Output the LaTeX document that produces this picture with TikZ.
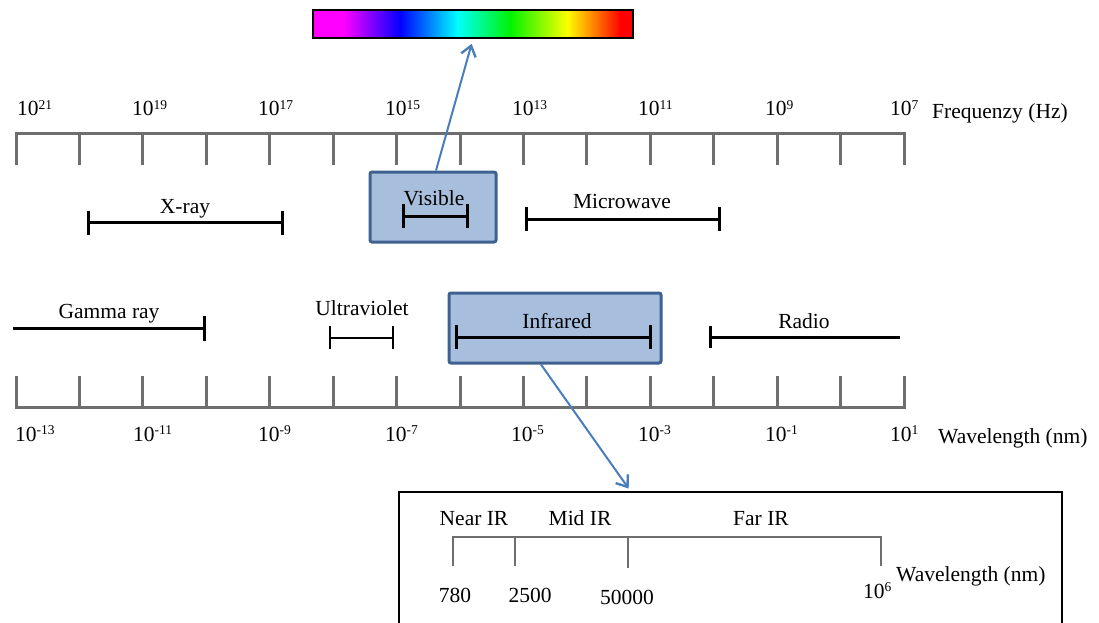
\documentclass[tikz,border=0pt]{standalone}
\usepackage{fontspec}
\setmainfont{Liberation Serif}
\usetikzlibrary{arrows.meta}
\definecolor{axisgray}{HTML}{6E6E6E}
\definecolor{boxfill}{HTML}{A7BEDD}
\definecolor{boxedge}{HTML}{3F6190}
\definecolor{arrowblue}{HTML}{4A7EBB}
\definecolor{specmag}{rgb}{1,0,1}
\definecolor{specblue}{rgb}{0,0,1}
\definecolor{speccyan}{rgb}{0,1,1}
\definecolor{specgreen}{rgb}{0,0.95,0}
\definecolor{specyellow}{rgb}{1,1,0}
\definecolor{specred}{rgb}{1,0,0}
\newcommand\pw[1]{\raisebox{6.5pt}{\fontsize{13.5}{14}\selectfont #1}}
\begin{document}
\begin{tikzpicture}[x=1pt,y=-1pt,
  lbl/.style={font=\fontsize{21.5}{25}\selectfont, inner sep=0pt},
  axisline/.style={draw=axisgray, line width=3pt},
  bar/.style={draw=black, line width=3pt},
  thinbar/.style={draw=black, line width=2.4pt},
  bandbox/.style={draw=boxedge, line width=3pt, fill=boxfill, rounded corners=2pt, inner sep=0pt},
  conn/.style={draw=arrowblue, line width=2pt, -{Straight Barb[length=10pt,width=15pt,line width=2.4pt]}},
]
\useasboundingbox (0,0) rectangle (1099,623);
\clip (0,0) rectangle (1099,623);

% spectrum bar
\fill[specmag] (313,10) rectangle (344,38);
\shade[left color=specmag, right color=specblue] (343,10) rectangle (401,38);
\shade[left color=specblue, right color=speccyan] (400,10) rectangle (458,38);
\shade[left color=speccyan, right color=specgreen] (457,10) rectangle (511,38);
\shade[left color=specgreen, right color=specyellow] (510,10) rectangle (568,38);
\shade[left color=specyellow, right color=specred] (567,10) rectangle (621,38);
\fill[specred] (620,10) rectangle (633,38);
\node[draw=black, line width=2pt, minimum width=320, minimum height=28, inner sep=0pt] (spec) at (473,24) {};

% frequency axis
\draw[axisline] (16,133) -- (904,133);
\foreach \i in {0,...,14} { \draw[axisline] ({16+\i*63.43},131.5) -- ({16+\i*63.43},165); }
\foreach \x/\e [count=\k] in {17/21,132/19,258/17,385/15,512/13,638/11,765/9,890/7}
  { \node[lbl, anchor=base west] (f\k) at (\x,116) {10\pw{\e}}; }
\node[lbl, anchor=base west] (freq) at (932,118) {Frequenzy (Hz)};

% upper bands
\node[bandbox, minimum width=126, minimum height=70] (vis) at (433,207) {};
\node[lbl, anchor=base] (vist) at (434,205) {Visible};
\draw[bar] (403,204) -- (403,228);
\draw[bar] (403,216) -- (467,216);
\draw[bar] (467,204) -- (467,228);

\node[lbl, anchor=base] (xrayt) at (185,213) {X-ray};
\draw[bar] (88,211) -- (88,235);
\draw[bar] (88,222) -- (282,222);
\draw[bar] (282,211) -- (282,235);

\node[lbl, anchor=base] (mwt) at (622,208) {Microwave};
\draw[bar] (526,207) -- (526,231);
\draw[bar] (526,219) -- (719,219);
\draw[bar] (719,207) -- (719,231);

% lower bands
\node[lbl, anchor=base] (gamt) at (109,318) {Gamma ray};
\draw[bar] (13,328) -- (204,328);
\draw[bar] (204,316) -- (204,341);

\node[lbl, anchor=base] (uvt) at (362,315) {Ultraviolet};
\draw[thinbar] (330,326) -- (330,349);
\draw[thinbar] (330,338) -- (393,338);
\draw[thinbar] (393,326) -- (393,349);

\node[bandbox, minimum width=212, minimum height=70] (ir) at (555,328) {};
\node[lbl, anchor=base] (irt) at (557,328) {Infrared};
\draw[bar] (456,325) -- (456,349);
\draw[bar] (456,337) -- (650,337);
\draw[bar] (650,325) -- (650,349);

\node[lbl, anchor=base] (radt) at (804,328) {Radio};
\draw[bar] (710,326) -- (710,348);
\draw[bar] (710,337) -- (900,337);

% wavelength axis
\draw[axisline] (16,407) -- (904,407);
\foreach \i in {0,...,14} { \draw[axisline] ({16+\i*63.43},376) -- ({16+\i*63.43},408.5); }
\foreach \x/\e [count=\k] in {15/-13,133/-11,258/-9,385/-7,511/-5,638/-3,765/-1,890/1}
  { \node[lbl, anchor=base west] (w\k) at (\x,441) {10\pw{\e}}; }
\node[lbl, anchor=base west] (wavel) at (938,443) {Wavelength (nm)};

% infrared detail box
\node[draw=black, line width=1.8pt, minimum width=663, minimum height=200, inner sep=0pt, anchor=north west] (irbox) at (398,491) {};
\draw[axisline, line width=2.6pt] (453,566) -- (453,537) -- (881,537) -- (881,566);
\draw[axisline, line width=2.6pt] (515,537) -- (515,566);
\draw[axisline, line width=2.6pt] (628,537) -- (628,568);
\node[lbl, anchor=base] (nir) at (474,525) {Near IR};
\node[lbl, anchor=base] (mir) at (580,525) {Mid IR};
\node[lbl, anchor=base] (fir) at (761,525) {Far IR};
\node[lbl, anchor=base] (n780) at (455,602) {780};
\node[lbl, anchor=base] (n2500) at (530,602) {2500};
\node[lbl, anchor=base] (n50000) at (627,604) {50000};
\node[lbl, anchor=base west] (n1e6) at (863,598) {10\pw{6}};
\node[lbl, anchor=base west] (wavel2) at (896,581) {Wavelength (nm)};

% connectors
\draw[conn, shorten >=5pt] ([xshift=3pt]vis.north) -- (spec.south);
\draw[conn, shorten >=3pt] ([xshift=-14pt]ir.south) -- ([xshift=-100pt]irbox.north);
\end{tikzpicture}
\end{document}
